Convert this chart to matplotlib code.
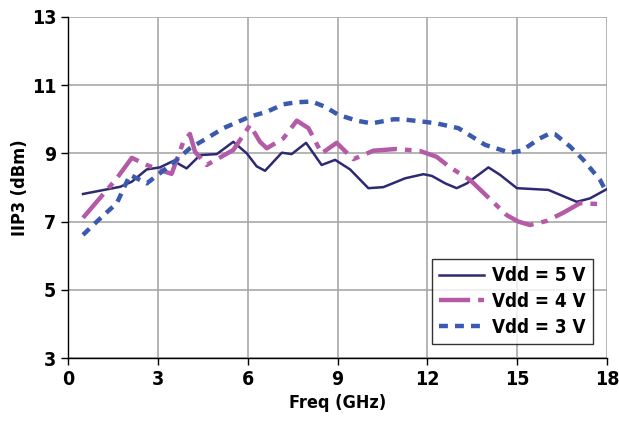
import matplotlib
matplotlib.use("Agg")
import matplotlib.pyplot as plt

plt.rcParams['font.family'] = ['DejaVu Sans']
plt.rcParams['font.stretch'] = 'condensed'
plt.rcParams['font.weight'] = 'bold'

# Vdd = 5 V
x5 = [0.5, 1.74, 2.13, 2.63, 3.07, 3.52, 3.96, 4.41, 4.97, 5.52, 5.97, 6.3, 6.58, 7.14, 7.47,
      7.95, 8.47, 8.92, 9.42, 10.03, 10.53, 11.26, 11.87, 12.15, 12.6, 12.98, 13.32, 14.04,
      14.43, 14.99, 16.04, 16.99, 17.43, 17.99]
y5 = [7.81, 8.02, 8.17, 8.53, 8.59, 8.78, 8.56, 8.95, 8.98, 9.34, 9.0, 8.62, 8.49, 9.02, 8.98,
      9.31, 8.66, 8.81, 8.53, 7.98, 8.01, 8.27, 8.39, 8.34, 8.12, 7.98, 8.12, 8.59,
      8.37, 7.98, 7.93, 7.58, 7.68, 7.95]

# Vdd = 4 V
x4 = [0.5, 1.63, 2.13, 2.63, 3.07, 3.46, 3.85, 4.07, 4.24, 4.63, 5.52, 6.08, 6.41, 6.64, 7.19,
      7.64, 8.03, 8.47, 8.97, 9.53, 10.2, 10.98, 11.76, 12.31, 12.76, 13.43, 14.65, 15.04,
      15.43, 15.99, 16.54, 17.1, 17.82]
y4 = [7.11, 8.27, 8.87, 8.66, 8.51, 8.4, 9.34, 9.57, 9.05, 8.66, 9.1, 9.83, 9.34, 9.15, 9.44,
      9.96, 9.74, 9.0, 9.31, 8.83, 9.08, 9.13, 9.07, 8.9, 8.59, 8.22, 7.19, 7.0,
      6.9, 7.02, 7.26, 7.54, 7.51]

# Vdd = 3 V
x3 = [0.5, 1.13, 1.63, 2.07, 2.63, 3.13, 3.63, 4.07, 4.63, 5.19, 6.08, 6.64, 7.19, 7.64, 8.14,
      8.58, 9.03, 9.64, 10.14, 10.87, 11.15, 11.87, 12.31, 13.04, 13.93, 14.76, 15.15, 15.76,
      16.1, 16.27, 16.77, 17.21, 17.77, 17.9]
y3 = [6.61, 7.14, 7.54, 8.37, 8.12, 8.46, 8.81, 9.15, 9.44, 9.74, 10.08, 10.22, 10.44, 10.5, 10.52,
      10.37, 10.13, 9.96, 9.88, 10.0, 10.0, 9.93, 9.88, 9.74, 9.25, 9.02, 9.08, 9.44,
      9.59, 9.56, 9.2, 8.81, 8.22, 8.0]

labels = ['Vdd = 5 V', 'Vdd = 4 V', 'Vdd = 3 V']
xticks = [0, 3, 6, 9, 12, 15, 18]
yticks = [3, 5, 7, 9, 11, 13]

fig = plt.figure(figsize=(6.19, 4.29), dpi=100)
ax = fig.add_axes([0.1099, 0.1655, 0.8707, 0.7949])

ax.plot(x5, y5, color='#2E2A72', lw=1.8, label=labels[0], zorder=3)
ax.plot(x4, y4, color='#B45BA8', lw=3.2, dashes=(7, 1.8, 1.5, 1.8), label=labels[1], zorder=3)
ax.plot(x3, y3, color='#3A5AAE', lw=3.2, dashes=(2.0, 1.6), label=labels[2], zorder=3)

ax.set_xlim(0, 18)
ax.set_ylim(3, 13)
ax.set_xticks(xticks)
ax.set_yticks(yticks)
ax.grid(True, color='#A8A8A8', lw=1.2)
ax.set_axisbelow(True)
for s in ['top', 'right']:
    ax.spines[s].set_visible(False)
for s in ['left', 'bottom']:
    ax.spines[s].set_color('#000000')
    ax.spines[s].set_linewidth(1.0)
ax.tick_params(direction='out', length=5, width=1, labelsize=14)
for t in ax.get_xticklabels() + ax.get_yticklabels():
    t.set_fontweight('bold')
ax.set_xlabel('Freq (GHz)', fontsize=13, fontweight='bold', labelpad=4)
ax.set_ylabel('IIP3 (dBm)', fontsize=13, fontweight='bold', labelpad=2)

leg = ax.legend(loc='lower right', bbox_to_anchor=(0.974, 0.041), borderaxespad=0,
                frameon=True, fancybox=False, edgecolor='black',
                prop={'weight': 'bold', 'size': 13.5, 'stretch': 'condensed'},
                handlelength=2.4, borderpad=0.4, labelspacing=0.35, handletextpad=0.4)
leg.get_frame().set_linewidth(1.0)

fig.savefig('out.png', dpi=100)
